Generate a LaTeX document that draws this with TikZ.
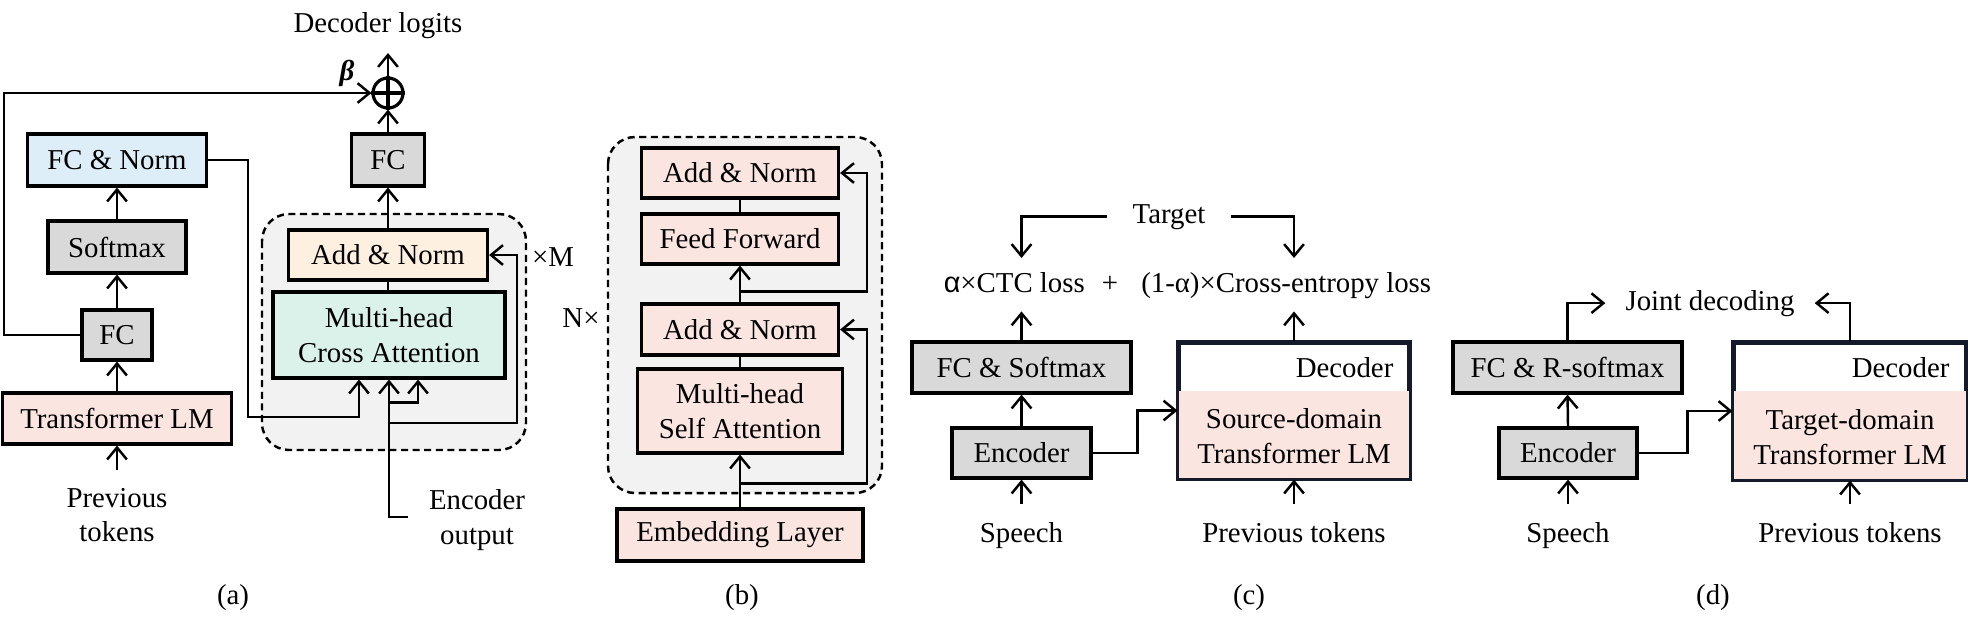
\documentclass[tikz,border=0pt]{standalone}
\usepackage{fontspec}
\setmainfont{Liberation Serif}
\newfontfamily\alphasans{Liberation Sans}
\usetikzlibrary{arrows.meta}
\definecolor{grayc}{HTML}{D9D9D9}
\definecolor{pinkc}{HTML}{FBE5E0}
\definecolor{bluec}{HTML}{DDEEF8}
\definecolor{orangec}{HTML}{FEF0E1}
\definecolor{greenc}{HTML}{DAF2E9}
\definecolor{regionc}{HTML}{F2F2F2}
\definecolor{navyc}{HTML}{141A2A}
\begin{document}
\begin{tikzpicture}[x=0.1mm, y=-0.1mm, >={Straight Barb[length=3.4pt,width=5.6pt]}, line width=0.7pt]
	\tikzset{every node/.style={font=\fontsize{8.2}{9.8}\selectfont}}
	\tikzset{
		box/.style={draw, line width=0.9pt, inner sep=0pt, align=center},
		lbl/.style={inner sep=0pt, align=center},
		region/.style={draw, fill=regionc, dash pattern=on 2pt off 1.3pt, rounded corners=2.7mm},
		decbox/.style={draw=navyc, fill=white, line width=0.9pt, inner sep=0pt}
	}
	\useasboundingbox (0,0) rectangle (1968,622);
	% --- 1. (a): LM branch ---
	\node[box, fill=pinkc, minimum width=22.9mm, minimum height=5.1mm] (tlm) at (117,418.5) {Transformer LM};
	\node[box, fill=grayc, minimum width=7mm, minimum height=5mm] (fca) at (117,335) {FC};
	\node[box, fill=grayc, minimum width=13.8mm, minimum height=5.2mm] (smx) at (117,247) {Softmax};
	\node[box, fill=bluec, minimum width=17.9mm, minimum height=5.2mm] (fcn) at (117,160) {FC \& Norm};
	\node[lbl] (prva) at (117,515) {Previous\\tokens};
	% --- 2. (a): decoder block ---
	\draw[region] (262,214) rectangle (526,450);
	\node[box, fill=orangec, minimum width=19.9mm, minimum height=5mm] (adn) at (388,255) {Add \& Norm};
	\node[box, fill=greenc, minimum width=23.2mm, minimum height=8.6mm] (mhca) at (389,335) {Multi-head\\Cross Attention};
	\node[box, fill=grayc, minimum width=7.3mm, minimum height=5.2mm] (fcd) at (388,160) {FC};
	\node[draw, circle, line width=0.9pt, minimum size=3mm, inner sep=0pt] (sum) at (388,93) {};
	\node[lbl] (logit) at (378,26) {Decoder logits};
	\node[lbl] (beta) at (347,73) {\bfseries\itshape β};
	\node[lbl, anchor=west] (xm) at (531,257) {×M};
	\node[lbl] (eout) at (477,520) {Encoder\\output};
	\node[lbl] (capa) at (233,598) {(a)};
	\coordinate (sk) at (4,0);
	\coordinate (lm) at (248,417);
	\coordinate (eo) at (408,517);
	\coordinate (ra) at (517,423);
	\coordinate (lt) at (388,53);
	% --- 3. (a): connectors ---
	\draw[->] ([yshift=1.7mm]prva.north) -- (tlm.south);
	\draw[->] (tlm.north) -- (fca.south);
	\draw[->] (fca.north) -- (smx.south);
	\draw[->] (smx.north) -- (fcn.south);
	\draw[->] (fca.west) -- (sk |- fca.west) -- (sk |- sum.west) -- (sum.west);
	\draw[->] (fcn.east) -| (lm) -| ([xshift=-3mm]mhca.south);
	\draw[->] (eo) -| (mhca.south);
	\draw[->] ([yshift=-2.3mm]mhca.south) -| ([xshift=2.9mm]mhca.south);
	\draw[->] (mhca.south |- ra) -- (ra) |- (adn.east);
	\draw (adn.south) -- (adn.south |- mhca.north);
	\draw[->] (adn.north) -- (fcd.south);
	\draw[->] (fcd.north) -- (sum.south);
	\draw[line width=0.9pt] (sum.north) -- (sum.south) (sum.west) -- (sum.east);
	\draw[->] (sum.north) -- (lt);
	% --- 4. (b): decoder layer ---
	\draw[region] (608,137) rectangle (882,493);
	\node[box, fill=pinkc, minimum width=19.7mm, minimum height=5mm] (adn1) at (740,173) {Add \& Norm};
	\node[box, fill=pinkc, minimum width=19.7mm, minimum height=5mm] (ffw) at (740,239) {Feed Forward};
	\node[box, fill=pinkc, minimum width=19.7mm, minimum height=5.1mm] (adn2) at (740,329.5) {Add \& Norm};
	\node[box, fill=pinkc, minimum width=20.5mm, minimum height=8.4mm] (mhsa) at (740,411) {Multi-head\\Self Attention};
	\node[box, fill=pinkc, minimum width=24.6mm, minimum height=5.2mm] (emb) at (740,535) {Embedding Layer};
	\node[lbl] (nx) at (581,318) {N×};
	\node[lbl] (capb) at (742,598) {(b)};
	\coordinate (rb) at (867,0);
	\draw[->] (emb.north) -- (mhsa.south);
	\draw[->] ([yshift=-2.9mm]mhsa.south) -| (rb |- adn2.east) -- (adn2.east);
	\draw (mhsa.north) -- (adn2.south);
	\draw[->] (adn2.north) -- (ffw.south);
	\draw[->] ([yshift=-2.6mm]ffw.south) -| (rb |- adn1.east) -- (adn1.east);
	\draw (ffw.north) -- (adn1.south);
	% --- 5. (c): training ---
	\node[box, fill=grayc, minimum width=13.9mm, minimum height=5mm] (enc) at (1021.5,453) {Encoder};
	\node[box, fill=grayc, minimum width=21.9mm, minimum height=5.1mm] (fcs) at (1021.5,367.5) {FC \& Softmax};
	\node[decbox, minimum width=23mm, minimum height=13.5mm] (dec) at (1294,410.5) {};
	\fill[pinkc] (dec.south west) rectangle ([yshift=-5mm]dec.north east);
	\draw[navyc, line width=0.9pt] (dec.south west) rectangle (dec.north east);
	\node[lbl, anchor=east] (dtxt) at ([xshift=-1.6mm,yshift=-2.6mm]dec.north east) {Decoder};
	\node[lbl] (stxt) at ([yshift=4.35mm]dec.south) {Source-domain\\Transformer LM};
	\node[lbl, anchor=base] (spc) at (1021.5,542) {Speech};
	\node[lbl, anchor=base] (prvc) at (1294,542) {Previous tokens};
	\node[lbl, anchor=base, inner xsep=2.4mm] (tgt) at (1169,223) {Target};
	\node[lbl, anchor=base east] (ctc) at (1086,292) {{\alphasans α}×CTC loss};
	\node[lbl, anchor=base] (pl) at (1110,292) {+};
	\node[lbl, anchor=base west] (ce) at (1140,292) {(1-α)×Cross-entropy loss};
	\node[lbl] (capc) at (1249,598) {(c)};
	\coordinate (ctop) at (1021.5,258);
	\coordinate (cetop) at (1294,258);
	\draw[->] (tgt.west) -| (ctop);
	\draw[->] (tgt.east) -| (cetop);
	\draw[->] (fcs.north) -- ([yshift=2.9mm]fcs.north);
	\draw[->] (dec.north) -- ([yshift=3mm]dec.north);
	\draw[->] (enc.north) -- (fcs.south);
	\draw[->] ([yshift=1.7mm]spc.north) -- (enc.south);
	\draw[->] ([yshift=1.7mm]prvc.north) -- (dec.south);
	\draw[->] (enc.east) -- ++(45,0) |- (dec.west);
	% --- 6. (d): decoding ---
	\node[box, fill=grayc, minimum width=13.8mm, minimum height=5mm] (enc2) at (1568,453) {Encoder};
	\node[box, fill=grayc, minimum width=22.9mm, minimum height=5.1mm] (fcr) at (1567.5,367.5) {FC \& R-softmax};
	\node[decbox, minimum width=23.2mm, minimum height=13.6mm] (dec2) at (1850,411) {};
	\fill[pinkc] (dec2.south west) rectangle ([yshift=-5mm]dec2.north east);
	\draw[navyc, line width=0.9pt] (dec2.south west) rectangle (dec2.north east);
	\node[lbl, anchor=east] (dtxt2) at ([xshift=-1.7mm,yshift=-2.6mm]dec2.north east) {Decoder};
	\node[lbl] (ttxt) at ([yshift=4.35mm]dec2.south) {Target-domain\\Transformer LM};
	\node[lbl, anchor=base] (spd) at (1568,542) {Speech};
	\node[lbl, anchor=base] (prvd) at (1850,542) {Previous tokens};
	\node[lbl, anchor=base, inner xsep=1.9mm] (jd) at (1710,310) {Joint decoding};
	\node[lbl] (capd) at (1713,598) {(d)};
	\draw[->] (fcr.north) |- (jd.west);
	\draw[->] (dec2.north) |- (jd.east);
	\draw[->] (enc2.north) -- (fcr.south);
	\draw[->] ([yshift=1.7mm]spd.north) -- (enc2.south);
	\draw[->] ([yshift=1.7mm]prvd.north) -- (dec2.south);
	\draw[->] (enc2.east) -- ++(49,0) |- (dec2.west);
\end{tikzpicture}
\end{document}
